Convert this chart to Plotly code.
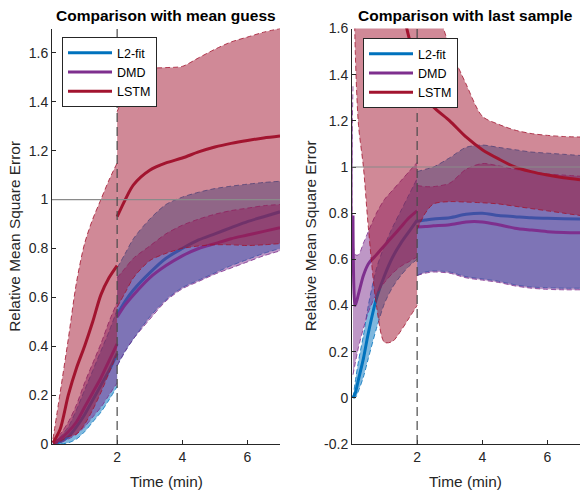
import plotly.graph_objects as go

# ---------------- data ----------------
SERIES = ["L2-fit", "DMD", "LSTM"]
LINE_COLORS = ["#0072BD", "#7E2F8E", "#A2142F"]
FILL_COLORS = ["rgba(0,114,189,0.5)", "rgba(126,47,142,0.5)", "rgba(162,20,47,0.5)"]

CUT_TIME = 2.0
REF_LEVEL = 1.0

# time grids
T_PRE_L = [0.03, 0.25, 0.5, 0.75, 1.0, 1.25, 1.5, 1.75, 2.0]
T_PRE_R = [0.03, 0.1, 0.2, 0.35, 0.5, 0.75, 1.0, 1.25, 1.5, 1.75, 2.0]
T_POST = [2.0, 2.25, 2.5, 3.0, 3.5, 4.0, 4.5, 5.0, 5.5, 6.0, 6.5, 7.0]

# ---- left panel: comparison with mean guess ----
L_L2_MEAN_PRE = [0.0, 0.01, 0.03, 0.07, 0.12, 0.18, 0.24, 0.30, 0.37]
L_L2_LO_PRE = [0.0, 0.0, 0.005, 0.02, 0.05, 0.09, 0.13, 0.18, 0.235]
L_L2_HI_PRE = [0.005, 0.03, 0.07, 0.14, 0.22, 0.30, 0.38, 0.46, 0.55]
L_DMD_MEAN_PRE = [0.005, 0.02, 0.05, 0.09, 0.15, 0.21, 0.27, 0.34, 0.41]
L_DMD_LO_PRE = [0.0, 0.005, 0.02, 0.04, 0.07, 0.11, 0.15, 0.20, 0.25]
L_DMD_HI_PRE = [0.01, 0.04, 0.09, 0.16, 0.25, 0.33, 0.41, 0.50, 0.58]
L_LSTM_MEAN_PRE = [0.005, 0.06, 0.20, 0.31, 0.40, 0.50, 0.61, 0.68, 0.73]
L_LSTM_LO_PRE = [0.0, 0.01, 0.03, 0.04, 0.08, 0.14, 0.21, 0.29, 0.37]
L_LSTM_HI_PRE = [0.02, 0.21, 0.43, 0.66, 0.82, 0.92, 1.00, 1.08, 1.15]

L_L2_MEAN_POST = [0.53, 0.585, 0.63, 0.70, 0.76, 0.80, 0.835, 0.86, 0.885, 0.91, 0.93, 0.95]
L_L2_LO_POST = [0.32, 0.38, 0.43, 0.52, 0.59, 0.64, 0.67, 0.70, 0.73, 0.755, 0.78, 0.80]
L_L2_HI_POST = [0.72, 0.78, 0.84, 0.92, 0.98, 1.01, 1.03, 1.045, 1.055, 1.063, 1.07, 1.075]
L_DMD_MEAN_POST = [0.52, 0.57, 0.61, 0.68, 0.73, 0.77, 0.80, 0.82, 0.84, 0.855, 0.87, 0.885]
L_DMD_LO_POST = [0.32, 0.38, 0.43, 0.51, 0.585, 0.635, 0.665, 0.695, 0.72, 0.745, 0.77, 0.79]
L_DMD_HI_POST = [0.68, 0.72, 0.76, 0.81, 0.86, 0.895, 0.92, 0.94, 0.955, 0.965, 0.975, 0.98]
L_LSTM_MEAN_POST = [0.93, 1.00, 1.06, 1.12, 1.15, 1.17, 1.195, 1.215, 1.23, 1.242, 1.252, 1.26]
L_LSTM_LO_POST = [0.56, 0.62, 0.68, 0.75, 0.78, 0.80, 0.81, 0.815, 0.815, 0.812, 0.815, 0.82]
L_LSTM_HI_POST = [1.36, 1.44, 1.50, 1.535, 1.54, 1.545, 1.58, 1.615, 1.645, 1.665, 1.685, 1.70]

# ---- right panel: comparison with last sample ----
R_L2_MEAN_PRE = [0.0, 0.02, 0.08, 0.17, 0.28, 0.43, 0.53, 0.61, 0.67, 0.72, 0.77]
R_L2_LO_PRE = [0.0, 0.0, 0.03, 0.09, 0.17, 0.30, 0.41, 0.48, 0.53, 0.57, 0.60]
R_L2_HI_PRE = [0.0, 0.07, 0.16, 0.27, 0.40, 0.56, 0.66, 0.74, 0.81, 0.88, 0.95]
R_DMD_MEAN_PRE = [0.79, 0.40, 0.45, 0.53, 0.58, 0.62, 0.66, 0.70, 0.74, 0.78, 0.81]
R_DMD_LO_PRE = [0.10, 0.15, 0.22, 0.30, 0.37, 0.45, 0.50, 0.54, 0.57, 0.59, 0.61]
R_DMD_HI_PRE = [1.35, 0.62, 0.62, 0.67, 0.72, 0.80, 0.86, 0.90, 0.94, 0.98, 1.02]
R_LSTM_MEAN_PRE = [3.5, 3.3, 3.1, 2.9, 2.7, 2.4, 2.15, 1.92, 1.72, 1.56, 1.43]
R_LSTM_LO_PRE = [2.2, 1.5, 1.18, 1.0, 0.74, 0.40, 0.24, 0.245, 0.29, 0.345, 0.40]
R_LSTM_HI_PRE = [4.0, 3.8, 3.6, 3.4, 3.2, 3.0, 2.8, 2.6, 2.45, 2.3, 2.2]

R_L2_MEAN_POST = [0.765, 0.77, 0.775, 0.78, 0.795, 0.80, 0.79, 0.785, 0.78, 0.778, 0.776, 0.775]
R_L2_LO_POST = [0.53, 0.545, 0.55, 0.545, 0.525, 0.515, 0.505, 0.49, 0.48, 0.477, 0.475, 0.475]
R_L2_HI_POST = [0.98, 0.99, 1.0, 1.04, 1.085, 1.095, 1.085, 1.075, 1.065, 1.06, 1.055, 1.05]
R_DMD_MEAN_POST = [0.74, 0.742, 0.745, 0.75, 0.762, 0.762, 0.75, 0.735, 0.727, 0.72, 0.716, 0.715]
R_DMD_LO_POST = [0.53, 0.54, 0.545, 0.54, 0.52, 0.51, 0.50, 0.485, 0.475, 0.47, 0.468, 0.468]
R_DMD_HI_POST = [0.92, 0.915, 0.915, 0.93, 0.99, 1.015, 1.005, 0.99, 0.98, 0.97, 0.965, 0.96]
R_LSTM_MEAN_POST = [1.43, 1.31, 1.26, 1.20, 1.13, 1.075, 1.035, 1.0, 0.98, 0.965, 0.953, 0.945]
R_LSTM_LO_POST = [0.73, 0.80, 0.84, 0.85, 0.848, 0.845, 0.84, 0.83, 0.82, 0.81, 0.80, 0.79]
R_LSTM_HI_POST = [2.2, 1.9, 1.75, 1.52, 1.36, 1.22, 1.185, 1.16, 1.145, 1.137, 1.132, 1.13]

TITLES = ["Comparison with mean guess", "Comparison with last sample"]
X_LABEL = "Time (min)"
Y_LABEL = "Relative Mean Square Error"
X_TICKS = [2, 4, 6]
X_TICKTEXT = ["2", "4", "6"]
L_Y_TICKS = [0, 0.2, 0.4, 0.6, 0.8, 1.0, 1.2, 1.4, 1.6]
L_Y_TICKTEXT = ["0", "0.2", "0.4", "0.6", "0.8", "1", "1.2", "1.4", "1.6"]
R_Y_TICKS = [-0.2, 0, 0.2, 0.4, 0.6, 0.8, 1.0, 1.2, 1.4, 1.6]
R_Y_TICKTEXT = ["-0.2", "0", "0.2", "0.4", "0.6", "0.8", "1", "1.2", "1.4", "1.6"]
X_RANGE = [0, 7]
L_Y_RANGE = [0, 1.7]
R_Y_RANGE = [-0.2, 1.6]

PANELS = [
    dict(xa="x", ya="y", legend="legend", t_pre=T_PRE_L,
         series=[
             (L_L2_MEAN_PRE, L_L2_LO_PRE, L_L2_HI_PRE, L_L2_MEAN_POST, L_L2_LO_POST, L_L2_HI_POST),
             (L_DMD_MEAN_PRE, L_DMD_LO_PRE, L_DMD_HI_PRE, L_DMD_MEAN_POST, L_DMD_LO_POST, L_DMD_HI_POST),
             (L_LSTM_MEAN_PRE, L_LSTM_LO_PRE, L_LSTM_HI_PRE, L_LSTM_MEAN_POST, L_LSTM_LO_POST, L_LSTM_HI_POST),
         ]),
    dict(xa="x2", ya="y2", legend="legend2", t_pre=T_PRE_R,
         series=[
             (R_L2_MEAN_PRE, R_L2_LO_PRE, R_L2_HI_PRE, R_L2_MEAN_POST, R_L2_LO_POST, R_L2_HI_POST),
             (R_DMD_MEAN_PRE, R_DMD_LO_PRE, R_DMD_HI_PRE, R_DMD_MEAN_POST, R_DMD_LO_POST, R_DMD_HI_POST),
             (R_LSTM_MEAN_PRE, R_LSTM_LO_PRE, R_LSTM_HI_PRE, R_LSTM_MEAN_POST, R_LSTM_LO_POST, R_LSTM_HI_POST),
         ]),
]

# ---------------- figure ----------------
FONT = "Liberation Sans, Arial, Helvetica, sans-serif"
INK = "#262626"
fig = go.Figure()

EDGE_DASH = "5px,3px"
SMOOTH = 0.8

for panel in PANELS:
    xa, ya = panel["xa"], panel["ya"]
    for i, name in enumerate(SERIES):
        m_pre, lo_pre, hi_pre, m_post, lo_post, hi_post = panel["series"][i]
        col, fcol = LINE_COLORS[i], FILL_COLORS[i]
        for t, lo, hi in ((panel["t_pre"], lo_pre, hi_pre), (T_POST, lo_post, hi_post)):
            fig.add_trace(go.Scatter(x=t, y=lo, xaxis=xa, yaxis=ya, mode="lines",
                                     line=dict(color=col, width=0.8, dash=EDGE_DASH, shape="spline", smoothing=SMOOTH),
                                     showlegend=False, hoverinfo="skip"))
            fig.add_trace(go.Scatter(x=t, y=hi, xaxis=xa, yaxis=ya, mode="lines", fill="tonexty",
                                     fillcolor=fcol,
                                     line=dict(color=col, width=0.8, dash=EDGE_DASH, shape="spline", smoothing=SMOOTH),
                                     showlegend=False, hoverinfo="skip"))
        fig.add_trace(go.Scatter(x=panel["t_pre"], y=m_pre, xaxis=xa, yaxis=ya, mode="lines",
                                 line=dict(color=col, width=3, shape="spline", smoothing=SMOOTH),
                                 name=name, legend=panel["legend"], legendgroup=name, showlegend=True))
        fig.add_trace(go.Scatter(x=T_POST, y=m_post, xaxis=xa, yaxis=ya, mode="lines",
                                 line=dict(color=col, width=3, shape="spline", smoothing=SMOOTH),
                                 name=name, legend=panel["legend"], legendgroup=name, showlegend=False))

# reference lines
for xa, ya in (("x", "y"), ("x2", "y2")):
    fig.add_shape(type="line", xref=f"{xa} domain", x0=0, x1=1, yref=ya, y0=REF_LEVEL, y1=REF_LEVEL,
                  line=dict(color="#8a8a8a", width=1.2), layer="above")
    fig.add_shape(type="line", xref=xa, x0=CUT_TIME, x1=CUT_TIME, yref=f"{ya} domain", y0=0, y1=1,
                  line=dict(color="#4a4a4a", width=1.2, dash="9px,5px"), layer="above")

W, H = 580, 492
y_dom = [(492 - 444) / H, (492 - 28.5) / H]
xd1 = [52 / W, 280 / W]
xd2 = [352 / W, 1.0]

axis_common = dict(showline=True, linecolor=INK, linewidth=1, ticks="inside", ticklen=4,
                   tickcolor=INK, showgrid=False, zeroline=False, mirror=False, automargin=False,
                   tickfont=dict(family=FONT, size=14, color=INK), tickmode="array")

legend_common = dict(xanchor="left", yanchor="top", bgcolor="white",
                     bordercolor=INK, borderwidth=1,
                     font=dict(family=FONT, size=12.5, color="#000000"),
                     itemwidth=44, tracegroupgap=0)

fig.update_layout(
    width=W, height=H, autosize=False,
    margin=dict(l=0, r=0, t=0, b=0, pad=0, autoexpand=False),
    paper_bgcolor="white", plot_bgcolor="white",
    font=dict(family=FONT, color=INK),
    xaxis=dict(domain=xd1, anchor="y", range=X_RANGE, tickvals=X_TICKS, ticktext=X_TICKTEXT, **axis_common),
    yaxis=dict(domain=y_dom, anchor="x", range=L_Y_RANGE, tickvals=L_Y_TICKS, ticktext=L_Y_TICKTEXT, **axis_common),
    xaxis2=dict(domain=xd2, anchor="y2", range=X_RANGE, tickvals=X_TICKS, ticktext=X_TICKTEXT, **axis_common),
    yaxis2=dict(domain=y_dom, anchor="x2", range=R_Y_RANGE, tickvals=R_Y_TICKS, ticktext=R_Y_TICKTEXT, **axis_common),
    legend=dict(x=62 / W, y=1 - 37 / H, **legend_common),
    legend2=dict(x=363 / W, y=1 - 38 / H, **legend_common),
    showlegend=True,
)

# titles and axis labels as annotations
ann = []
for k, (xd) in enumerate((xd1, xd2)):
    cx = (xd[0] + xd[1]) / 2
    ann.append(dict(text=f"<b>{TITLES[k]}</b>", x=cx, y=1 - 15 / H, xref="paper", yref="paper",
                    xanchor="center", yanchor="middle", showarrow=False,
                    font=dict(family=FONT, size=15.5, color="#000000")))
    ann.append(dict(text=X_LABEL, x=cx, y=1 - 481 / H, xref="paper", yref="paper",
                    xanchor="center", yanchor="middle", showarrow=False,
                    font=dict(family=FONT, size=15.4, color=INK)))
ann.append(dict(text=Y_LABEL, x=14.5 / W, y=(y_dom[0] + y_dom[1]) / 2, xref="paper", yref="paper",
                xanchor="center", yanchor="middle", textangle=-90, showarrow=False,
                font=dict(family=FONT, size=15.4, color=INK)))
ann.append(dict(text=Y_LABEL, x=310 / W, y=(y_dom[0] + y_dom[1]) / 2, xref="paper", yref="paper",
                xanchor="center", yanchor="middle", textangle=-90, showarrow=False,
                font=dict(family=FONT, size=15.4, color=INK)))
fig.update_layout(annotations=ann)

fig.write_html("out.html", config={"displayModeBar": False, "responsive": False},
               post_script="document.body.style.margin='0';document.body.style.overflow='hidden';")
